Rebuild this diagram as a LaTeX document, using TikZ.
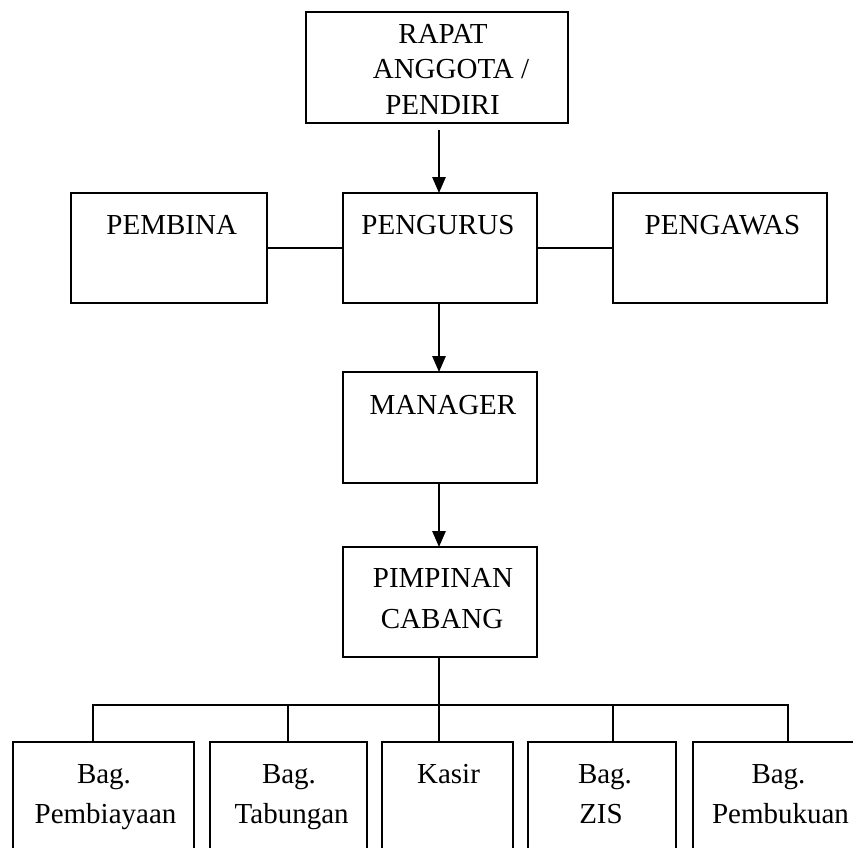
\documentclass[tikz,border=0pt]{standalone}
\usepackage{fontspec}
\setmainfont{Liberation Serif}
\usetikzlibrary{arrows.meta}
\tikzset{
  box/.style={draw, line width=1.4pt, inner sep=0pt, outer sep=0pt},
  lbl/.style={anchor=base, inner sep=0pt, font=\fontsize{21.75}{30}\selectfont},
  conn/.style={line width=1.4pt},
  arr/.style={line width=1.4pt, -{Triangle[length=12pt,width=10pt]}}
}
\begin{document}
\begin{tikzpicture}[x=0.75pt, y=-0.75pt]
\useasboundingbox (0,0) rectangle (853,847);
\clip (0,0) rectangle (853,847);
% boxes
\node[box, minimum width=196.5pt, minimum height=83.25pt] (rapat) at (437,67.5) {};
\node[box, minimum width=147pt, minimum height=82.5pt] (pembina) at (169,248) {};
\node[box, minimum width=145.5pt, minimum height=82.5pt] (pengurus) at (440,248) {};
\node[box, minimum width=160.5pt, minimum height=82.5pt] (pengawas) at (720,248) {};
\node[box, minimum width=145.5pt, minimum height=83.25pt] (manager) at (440,427.5) {};
\node[box, minimum width=145.5pt, minimum height=82.5pt] (pimpinan) at (440,602) {};
\node[box, minimum width=135.75pt, minimum height=118.5pt] (b1) at (103.5,821) {};
\node[box, minimum width=117.75pt, minimum height=118.5pt] (b2) at (288.5,821) {};
\node[box, minimum width=98.25pt, minimum height=118.5pt] (b3) at (447.5,821) {};
\node[box, minimum width=111pt, minimum height=118.5pt] (b4) at (602,821) {};
\node[box, minimum width=155.25pt, minimum height=118.5pt] (b5) at (796.5,821) {};
% texts
\node[lbl] (t1) at (443,43) {RAPAT};
\node[lbl] (t2) at (451,78) {ANGGOTA /};
\node[lbl] (t3) at (442.5,114) {PENDIRI};
\node[lbl] (t4) at (171.7,234) {PEMBINA};
\node[lbl] (t5) at (438,234) {PENGURUS};
\node[lbl] (t6) at (722.5,234) {PENGAWAS};
\node[lbl] (t7) at (443,414) {MANAGER};
\node[lbl] (t8) at (443,587) {PIMPINAN};
\node[lbl] (t9) at (442,628) {CABANG};
\node[lbl] (t10) at (104,783) {Bag.};
\node[lbl] (t11) at (105.5,823) {Pembiayaan};
\node[lbl] (t12) at (289,783) {Bag.};
\node[lbl] (t13) at (291.7,823) {Tabungan};
\node[lbl] (t14) at (448.5,783) {Kasir};
\node[lbl] (t15) at (605,783) {Bag.};
\node[lbl] (t16) at (601,823) {ZIS};
\node[lbl] (t17) at (778.5,783) {Bag.};
\node[lbl] (t18) at (780.5,823) {Pembukuan};
% connectors
\coordinate (a1) at (439,130);
\draw[arr] (a1) -- (a1 |- pengurus.north);
\draw[conn] (pembina.east) -- (pengurus.west);
\draw[conn] (pengurus.east) -- (pengawas.west);
\coordinate (a2) at (439,303);
\draw[arr] (a2) -- (a2 |- manager.north);
\coordinate (a3) at (439,483);
\draw[arr] (a3) -- (a3 |- pimpinan.north);
\coordinate (j1) at (93,705);
\coordinate (j2) at (288,705);
\coordinate (j3) at (439,705);
\coordinate (j4) at (613,705);
\coordinate (j5) at (788,705);
\draw[conn] (j3 |- pimpinan.south) -- (j3);
\draw[conn] (j1 |- b1.north) -- (j1) -- (j5) -- (j5 |- b5.north);
\draw[conn] (j2) -- (j2 |- b2.north);
\draw[conn] (j3) -- (j3 |- b3.north);
\draw[conn] (j4) -- (j4 |- b4.north);
\end{tikzpicture}
\end{document}
